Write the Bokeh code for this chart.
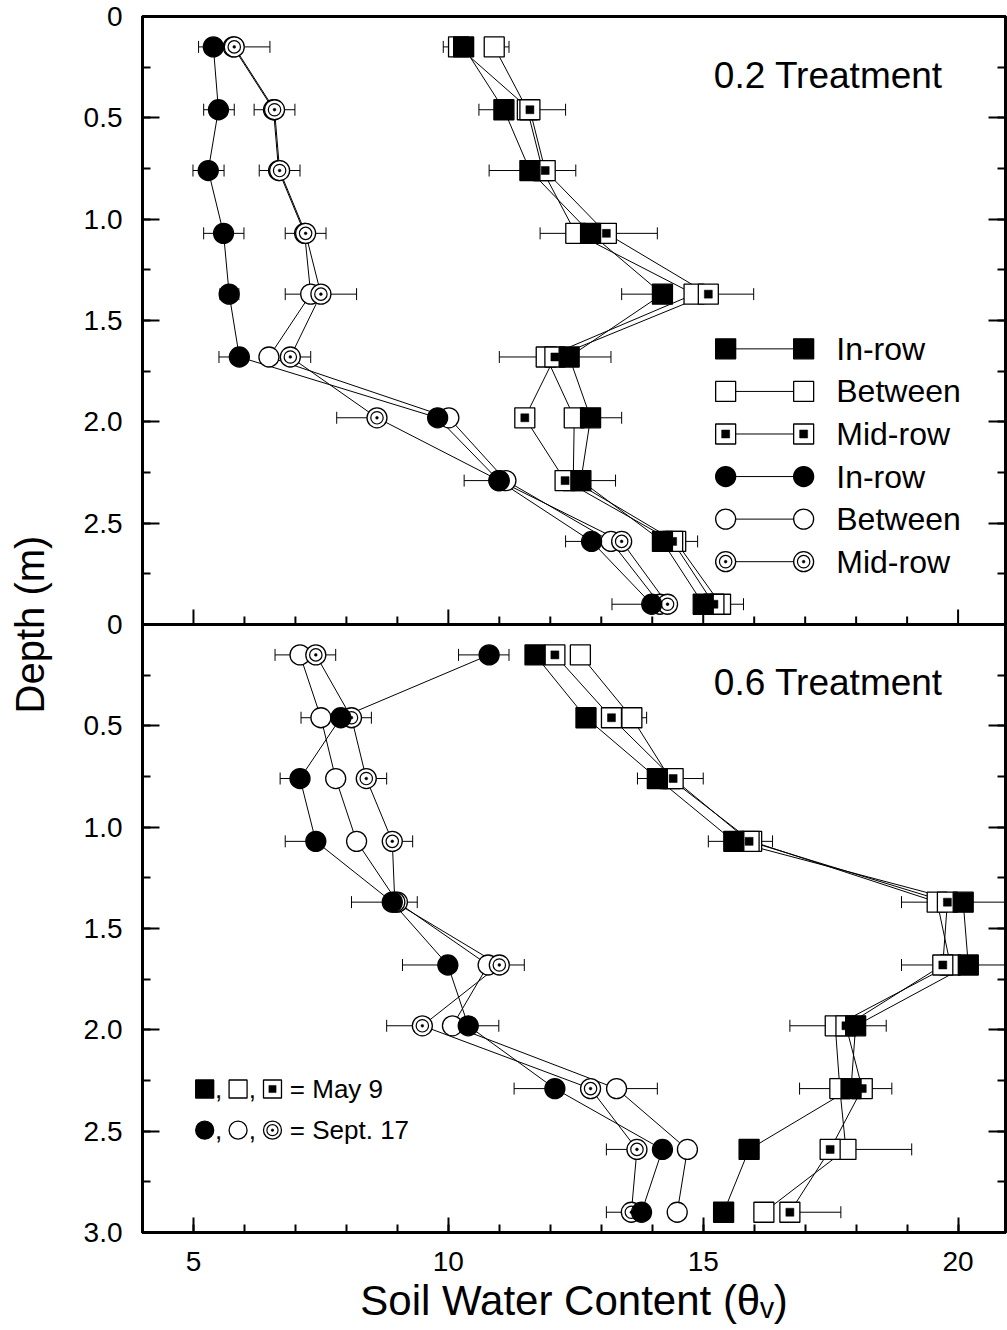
from math import pi
from bokeh.plotting import figure
from bokeh.models import (Range1d, FixedTicker, LinearAxis, Whisker, TeeHead,
                          ColumnDataSource, Span)
from bokeh.embed import file_html
from bokeh.resources import INLINE
from bokeh.core.properties import value

FONT = "Liberation Sans"

# ---------------- data ----------------
depth = [0.15, 0.46, 0.76, 1.07, 1.37, 1.68, 1.98, 2.29, 2.59, 2.90]

# 0.2 Treatment (top panel) -- May 9 (squares)
t02_may_in = [10.30, 11.09, 11.60, 12.79, 14.20, 12.37, 12.79, 12.60, 14.20, 15.00]
t02_may_in_lo = [0.40, 0.49, 0.80, 0, 0.80, 0, 0, 0, 0, 0]
t02_may_in_hi = [0, 0, 0, 0, 0, 0.82, 0.61, 0.68, 0, 0]
t02_may_btw = [10.90, 11.55, 11.85, 12.50, 14.82, 11.92, 12.47, 12.45, 14.46, 15.34]
t02_may_btw_lo = [0, 0, 0, 0.70, 0, 0.92, 0, 0, 0, 0]
t02_may_btw_hi = [0.29, 0, 0, 0, 0, 0, 0, 0, 0.43, 0.45]
t02_may_mid = [10.20, 11.60, 11.90, 13.10, 15.10, 12.09, 11.50, 12.29, 14.40, 15.21]
t02_may_mid_lo = [0, 0, 0, 0, 0, 0, 0, 0, 0, 0]
t02_may_mid_hi = [0, 0.70, 0.60, 1.00, 0.89, 0, 0, 0, 0, 0]
# 0.2 Treatment -- Sept. 17 (circles)
t02_sep_in = [5.39, 5.49, 5.29, 5.59, 5.70, 5.90, 9.79, 10.99, 12.81, 13.99]
t02_sep_in_lo = [0.29, 0.29, 0.30, 0.39, 0.18, 0.40, 0, 0.68, 0.51, 0.78]
t02_sep_in_hi = [0, 0.31, 0.31, 0.40, 0.19, 0, 0, 0, 0, 0]
t02_sep_btw = [5.78, 6.57, 6.67, 7.18, 7.30, 6.48, 10.01, 11.13, 13.19, 14.15]
t02_sep_btw_lo = [0, 0, 0, 0, 0.50, 0, 0, 0, 0, 0]
t02_sep_btw_hi = [0, 0, 0, 0, 0, 0, 0, 0, 0, 0]
t02_sep_mid = [5.80, 6.59, 6.69, 7.20, 7.50, 6.90, 8.60, 11.00, 13.40, 14.30]
t02_sep_mid_lo = [0, 0.40, 0.40, 0.40, 0, 0, 0.79, 0, 0, 0]
t02_sep_mid_hi = [0.70, 0.40, 0.40, 0.40, 0.70, 0.40, 0, 0, 0, 0]

# 0.6 Treatment (bottom panel) -- May 9 (squares)
t06_may_in = [11.70, 12.70, 14.10, 15.60, 20.10, 20.20, 17.99, 17.90, 15.90, 15.40]
t06_may_in_lo = [0, 0, 0.39, 0.50, 0, 0, 0, 0, 0, 0]
t06_may_in_hi = [0, 0, 0, 0, 0.90, 0.90, 0.60, 0, 0, 0]
t06_may_btw = [12.59, 13.60, 14.35, 15.95, 19.59, 19.85, 17.59, 17.68, 17.80, 16.19]
t06_may_btw_lo = [0, 0, 0, 0, 0.70, 0, 0.89, 0.79, 0, 0]
t06_may_btw_hi = [0, 0.29, 0, 0.41, 0, 0, 0, 0, 1.29, 0]
t06_may_mid = [12.09, 13.20, 14.41, 15.90, 19.79, 19.70, 17.80, 18.12, 17.49, 16.70]
t06_may_mid_lo = [0, 0, 0, 0, 0, 0.81, 0, 0, 0, 0]
t06_may_mid_hi = [0, 0, 0.59, 0, 0, 0, 0, 0.58, 0, 1.00]
# 0.6 Treatment -- Sept. 17 (circles)
t06_sep_in = [10.80, 7.89, 7.09, 7.40, 8.90, 9.99, 10.39, 12.09, 14.20, 13.79]
t06_sep_in_lo = [0.60, 0, 0.39, 0.60, 0.80, 0.89, 0, 0.80, 0, 0]
t06_sep_in_hi = [0.39, 0, 0, 0, 0, 0, 0.60, 0, 0, 0]
t06_sep_btw = [7.09, 7.50, 7.79, 8.20, 9.00, 10.78, 10.08, 13.30, 14.69, 14.49]
t06_sep_btw_lo = [0.49, 0.39, 0, 0, 0, 0, 0, 0, 0, 0]
t06_sep_btw_hi = [0, 0, 0, 0, 0, 0, 0, 0.80, 0, 0]
t06_sep_mid = [7.40, 8.10, 8.39, 8.90, 8.95, 11.00, 9.49, 12.79, 13.70, 13.59]
t06_sep_mid_lo = [0, 0, 0, 0, 0, 0, 0.70, 0, 0.60, 0.49]
t06_sep_mid_hi = [0.39, 0.39, 0.40, 0.40, 0.44, 0.49, 0, 0, 0, 0]

panel_titles = ["0.2 Treatment", "0.6 Treatment"]
legend_labels = ["In-row", "Between", "Mid-row", "In-row", "Between", "Mid-row"]
legend_kinds = ["in_sq", "btw_sq", "mid_sq", "in_c", "btw_c", "mid_c"]
date_labels = ["= May 9", "= Sept. 17"]
x_title = "Soil Water Content (\u03b8\u1d65)"
y_title = "Depth (m)"
x_major = [5, 10, 15, 20]
x_minor = list(range(4, 22))

# ---------------- figure ----------------
p = figure(width=1007, height=1330, output_backend="svg", toolbar_location=None,
           x_range=Range1d(4, 20.93), y_range=Range1d(6, 0),
           x_axis_type=None, y_axis_type=None,
           min_border_left=142, min_border_right=2, min_border_top=16, min_border_bottom=98)
p.extra_y_ranges = {"bot": Range1d(3, -3)}
p.outline_line_color = "black"
p.outline_line_width = 3
p.background_fill_color = "white"
p.border_fill_color = "white"

y_ticks = [i * 0.5 for i in range(13)]
y_minor = [i * 0.25 for i in range(25)]
y_labels = {}
for t in y_ticks:
    d = t if t < 3 else t - 3
    y_labels[t] = "0" if d == 0 else f"{d:.1f}"


def style_axis(ax, maj_in):
    ax.axis_line_width = 3
    ax.axis_line_color = "black"
    ax.major_tick_line_width = 2
    ax.minor_tick_line_width = 2
    ax.major_tick_in = maj_in
    ax.major_tick_out = 0
    ax.minor_tick_in = 8
    ax.minor_tick_out = 0
    ax.major_label_text_font = FONT
    ax.major_label_text_font_size = "28px"
    ax.major_label_text_color = "black"
    ax.axis_label_text_font = FONT
    ax.axis_label_text_font_style = "normal"
    ax.axis_label_text_color = "black"


yl = LinearAxis(ticker=FixedTicker(ticks=y_ticks, minor_ticks=y_minor),
                major_label_overrides=y_labels, axis_label=y_title)
style_axis(yl, 17)
yl.major_label_standoff = 20
yl.axis_label_text_font_size = "40px"
yl.axis_label_standoff = 29
p.add_layout(yl, "left")

yr = LinearAxis(ticker=FixedTicker(ticks=y_ticks, minor_ticks=y_minor),
                major_label_overrides={t: "" for t in y_ticks})
style_axis(yr, 17)
yr.major_label_standoff = 0
p.add_layout(yr, "right")

xb = LinearAxis(ticker=FixedTicker(ticks=x_major, minor_ticks=x_minor), axis_label=x_title)
style_axis(xb, 15)
xb.major_label_standoff = 19
xb.axis_label_text_font_size = "42px"
xb.axis_label_standoff = 3
p.add_layout(xb, "below")

# boundary between the two panels, with inward ticks of the upper panel
p.add_layout(Span(location=3, dimension="width", line_width=3, line_color="black"))
p.ray(x=x_major, y=[3] * len(x_major), length=15, angle=pi / 2, length_units="screen",
      line_width=2, line_color="black")
x_mid_minor = [v for v in range(5, 21) if v not in x_major]
p.ray(x=x_mid_minor, y=[3] * len(x_mid_minor), length=8, angle=pi / 2, length_units="screen",
      line_width=2, line_color="black")

# ---------------- series ----------------
panels = [
    ("default", [
        ("btw_sq", t02_may_btw, t02_may_btw_lo, t02_may_btw_hi),
        ("mid_sq", t02_may_mid, t02_may_mid_lo, t02_may_mid_hi),
        ("in_sq", t02_may_in, t02_may_in_lo, t02_may_in_hi),
        ("btw_c", t02_sep_btw, t02_sep_btw_lo, t02_sep_btw_hi),
        ("mid_c", t02_sep_mid, t02_sep_mid_lo, t02_sep_mid_hi),
        ("in_c", t02_sep_in, t02_sep_in_lo, t02_sep_in_hi),
    ]),
    ("bot", [
        ("btw_sq", t06_may_btw, t06_may_btw_lo, t06_may_btw_hi),
        ("mid_sq", t06_may_mid, t06_may_mid_lo, t06_may_mid_hi),
        ("in_sq", t06_may_in, t06_may_in_lo, t06_may_in_hi),
        ("btw_c", t06_sep_btw, t06_sep_btw_lo, t06_sep_btw_hi),
        ("mid_c", t06_sep_mid, t06_sep_mid_lo, t06_sep_mid_hi),
        ("in_c", t06_sep_in, t06_sep_in_lo, t06_sep_in_hi),
    ]),
]


def markers(kind, xs, ys, rng, size=20):
    m = "square" if kind.endswith("_sq") else "circle"
    fill = "black" if kind.startswith("in") else "white"
    p.scatter(xs, ys, marker=m, size=size, fill_color=fill, line_color="black",
              line_width=1.3, y_range_name=rng)
    if kind == "mid_sq":
        p.scatter(xs, ys, marker="square", size=size * 0.4, fill_color="black",
                  line_color="black", line_width=0.5, y_range_name=rng)
    if kind == "mid_c":
        p.scatter(xs, ys, marker="circle", size=size * 0.62, fill_color="white",
                  line_color="black", line_width=1.2, y_range_name=rng)
        p.scatter(xs, ys, marker="circle", size=size * 0.14, fill_color="black",
                  line_color="black", line_width=0.5, y_range_name=rng)


def whiskers(xs, errs, rng, side):
    keep = [i for i, e in enumerate(errs) if e > 0]
    if not keep:
        return
    base = [depth[i] for i in keep]
    if side == "lo":
        lower = [xs[i] - errs[i] for i in keep]
        upper = [xs[i] for i in keep]
        heads = dict(lower_head=TeeHead(size=12, line_width=1, line_color="black"), upper_head=None)
    else:
        lower = [xs[i] for i in keep]
        upper = [xs[i] + errs[i] for i in keep]
        heads = dict(upper_head=TeeHead(size=12, line_width=1, line_color="black"), lower_head=None)
    p.add_layout(Whisker(source=ColumnDataSource(dict(base=base, lower=lower, upper=upper)),
                         base="base", lower="lower", upper="upper", dimension="width",
                         line_width=1, line_color="black", y_range_name=rng, **heads))


for rng, series in panels:
    for kind, xs, lo, hi in series:
        p.line(xs, depth, line_color="black", line_width=1, y_range_name=rng)
    for kind, xs, lo, hi in series:
        whiskers(xs, lo, rng, "lo")
        whiskers(xs, hi, rng, "hi")
    for kind, xs, lo, hi in series:
        markers(kind, xs, depth, rng)

# ---------------- panel titles ----------------
p.text(x=[19.70], y=[0.289], text=[panel_titles[0]], text_align="right",
       text_baseline="middle", text_font=value(FONT), text_font_size="37px")
p.text(x=[19.70], y=[0.284], text=[panel_titles[1]], text_align="right",
       text_baseline="middle", text_font=value(FONT), text_font_size="37px",
       y_range_name="bot")

# ---------------- legend (top panel) ----------------
leg_y = [1.64, 1.85, 2.06, 2.27, 2.48, 2.69]
leg_x0, leg_x1, leg_tx = 15.44, 16.97, 17.61
p.segment(x0=[leg_x0] * 6, y0=leg_y, x1=[leg_x1] * 6, y1=leg_y, line_color="black", line_width=1)
for k, yy in zip(legend_kinds, leg_y):
    markers(k, [leg_x0, leg_x1], [yy, yy], "default")
p.text(x=[leg_tx] * 6, y=leg_y, text=legend_labels, text_align="left", text_baseline="middle",
       text_font=value(FONT), text_font_size="32px")

# ---------------- date key (bottom panel) ----------------
key_y = [2.292, 2.495]
key_x = [5.22, 5.875, 6.55]
for yy, shapes in zip(key_y, [["in_sq", "btw_sq", "mid_sq"], ["in_c", "btw_c", "mid_c"]]):
    for k, xx in zip(shapes, key_x):
        markers(k, [xx], [yy], "bot", size=18)
p.text(x=[5.42, 6.085] * 2, y=[key_y[0], key_y[0], key_y[1], key_y[1]], text=[","] * 4,
       text_align="left", text_baseline="middle", text_font=value(FONT), text_font_size="26px",
       y_range_name="bot")
p.text(x=[6.89, 6.89], y=key_y, text=date_labels, text_align="left", text_baseline="middle",
       text_font=value(FONT), text_font_size="26px", y_range_name="bot")

open("out.html", "w").write(file_html(p, INLINE))
